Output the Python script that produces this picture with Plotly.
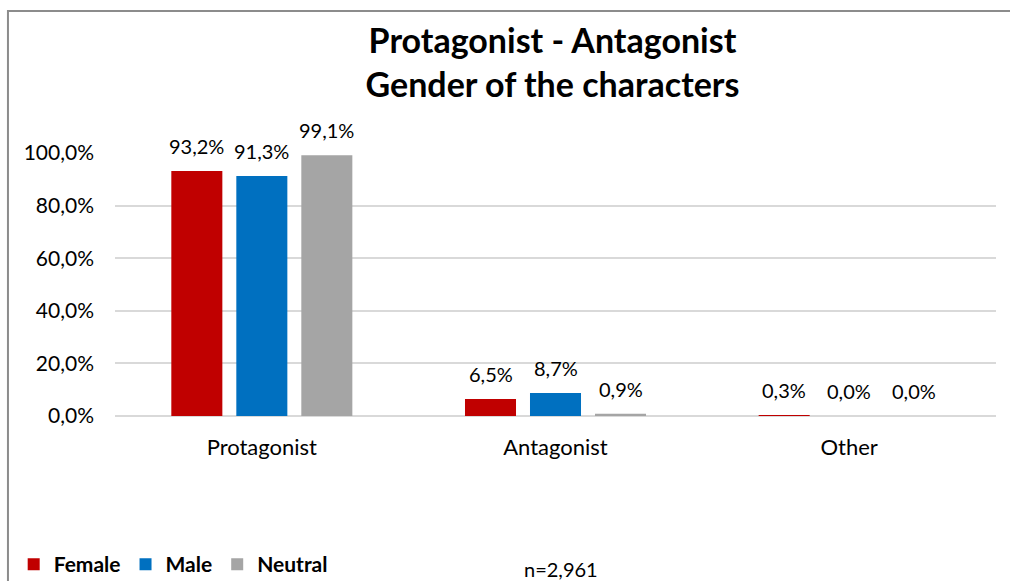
import plotly.graph_objects as go

categories = ["Protagonist", "Antagonist", "Other"]
series_names = ["Female", "Male", "Neutral"]
female = [0.932, 0.065, 0.003]
male = [0.913, 0.087, 0.0]
neutral = [0.991, 0.009, 0.0]
colors = ["#C00000", "#0070C0", "#A5A5A5"]
y_ticks = [0, 0.2, 0.4, 0.6, 0.8, 1.0]

FONT = "Lato"
fig = go.Figure()
for name, vals, col in zip(series_names, [female, male, neutral], colors):
    fig.add_trace(go.Bar(x=categories, y=vals, name=f"<b>{name}</b>", marker_color=col,
                         marker_line_width=0))

# data labels
offsets = [-65, 0, 65]
for vals, off in zip([female, male, neutral], offsets):
    for c, v in zip(categories, vals):
        fig.add_annotation(x=c, y=v, text=f"{v*100:.1f}%".replace(".", ","),
                           showarrow=False, xshift=off, yshift=11, yanchor="bottom",
                           font=dict(family=FONT, size=20, color="#000"))

fig.add_annotation(xref="paper", yref="paper", x=0.506, y=-0.58, yanchor="middle",
                   text="n=2,961", showarrow=False,
                   font=dict(family=FONT, size=20, color="#000"))

fig.add_shape(type="rect", xref="paper", yref="paper", x0=-0.1215, y0=-1.0, x1=1.2, y1=1.54,
              line=dict(color="#8c8c8c", width=2), fillcolor="rgba(0,0,0,0)", layer="below")

fig.update_layout(
    width=1010, height=581,
    margin=dict(l=115, r=14, t=153, b=165, autoexpand=False),
    paper_bgcolor="white", plot_bgcolor="white",
    separators=",.",
    title=dict(text="<b>Protagonist - Antagonist<br>Gender of the characters</b>",
               x=0.547, xanchor="center", yref="container", y=1 - 53 / 581, yanchor="middle",
               font=dict(family=FONT, size=34, color="#000")),
    barmode="group", bargap=0.336, bargroupgap=0.215,
    font=dict(family=FONT, size=21, color="#000"),
    showlegend=True,
    legend=dict(orientation="h", x=-0.115, xanchor="left", y=-0.565, yanchor="middle",
                font=dict(family=FONT, size=21, color="#000"),
                tracegroupgap=0, itemwidth=30),
    xaxis=dict(showgrid=False, showline=False, ticks="", ticklabelstandoff=16,
               tickfont=dict(family=FONT, size=22, color="#000")),
    yaxis=dict(range=[0, 1.0], tickvals=y_ticks, tickformat=".1%",
               showgrid=True, gridcolor="#d9d9d9", gridwidth=1.5,
               zeroline=True, zerolinecolor="#d9d9d9", zerolinewidth=1.5,
               showline=False, ticks="", ticklabelstandoff=20,
               tickfont=dict(family=FONT, size=21, color="#000")),
)

fig.write_html("out.html", config={"displayModeBar": False},
               post_script="document.body.style.margin='0';document.body.style.overflow='hidden';")
